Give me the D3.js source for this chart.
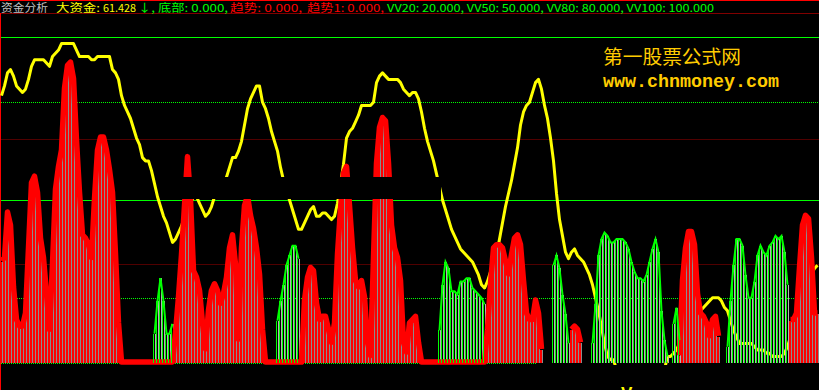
<!DOCTYPE html>
<html><head><meta charset="utf-8">
<script src="https://cdn.jsdelivr.net/npm/d3@7"></script>
<style>html,body{margin:0;padding:0;background:#000;overflow:hidden}</style>
</head><body>
<svg width="819" height="390"></svg>
<script>
// 大资金 (yellow line), one value per bar
let bigMoney = [
  82,85,89,90,88,85,84,83,84,87, 91,93,93,93,93,92,91,94,95,96,
  98,98,98,98,98,96,94,94,94,94, 93,93,94,94,94,94,94,90,89,87,
  82,79,77,75,72,69,67,63,62,62, 59,55,51,48,45,43,40,37,38,40,
  42,45,48,49,51,51,49,47,45,46, 48,51,52,54,55,57,60,63,63,65,
  68,73,78,81,83,85,85,80,78,75, 71,68,65,60,56,53,50,47,44,41,
  41,43,45,47,48,45,45,46,46,45, 44,45,49,55,61,69,71,72,74,76,
  79,79,79,79,80,86,88,89,88,87, 87,87,87,86,84,83,82,83,83,81,
  77,72,68,65,62,58,54,50,47,44, 41,39,37,35,34,33,32,31,29,27,
  24,23,25,28,31,33,38,43,48,52, 56,61,66,73,77,79,80,83,86,87,
  84,79,75,69,62,52,44,39,34,32, 34,35,33,32,31,29,27,24,20,16,
  11,6,2,1,1,-2,-2,-2,-2,-2, -2,-2,-2,-2,-2,-2,-2,-2,-2,-2,
  -2,-2,2,2,3,4,6,8,10,12, 13,14,15,16,17,18,19,20,20,20,
  19,17,16,13,10,8,6,6,6,6, 6,5,4,4,4,3,3,2,2,2,
  2,3,5,8,11,14,18,21,23,25, 27,29,30
];

// 趋势 (red sticks + thick red line), null = not drawn
let trend = [
  31,32,46,42,23,13,11,11,15,35, 55,57,52,38,32,21,10,30,53,60,
  65,84,91,92,87,68,52,39,38,36, 32,50,65,69,69,65,59,52,33,12,
  0,0,0,0,0,0,0,0,0,0, 0,0,0,0,0,0,0,0,
  9,20,33,48,63,50,28,26,22,12,4,16,
  22,24,22,18,21,26,35,39,30,7,
  35,48,51,45,41,35,27,10,
  0,0,0,0,0,0,0,0,0,0,0,0,0,
  19,26,29,28,18,13,14,14,10,6,12,
  33,47,58,60,48,35,25,23,25,20,6,2,
  32,61,72,75,74,61,42,35,32,25,6,3,12,13,14,6,
  0,0,0,0,0,0,0,0,0,0,0,0,0,0,0,0,0,0,0,0,0,0,
  10,24,35,36,36,35,31,27,33,38,39,36,25,15,13,13,19,15,4,
  null,null,null,null,null,null,null,null,null,
  10,11,10,6,
  null,null,null,null,null,null,null,null,null,null,null,null,null,null,null,null,
  null,null,null,null,null,null,null,null,null,null,null,null,null,null,null,null,
  2,25,35,40,40,36,21,15,14,12,8,13,14,8,
  null,null,null,null,null,null,null,null,null,null,null,null,
  null,null,null,null,null,null,null,null,null,null,null,
  13,13,15,29,42,45,44,32,15,15
];

// 趋势1 (green sticks)
let trend1 = [
  0,0,0,0,0,0,0,0,0,0, 0,0,0,0,0,0,0,0,0,0, 0,0,0,0,0,0,0,0,0,0,
  0,0,0,0,0,0,0,0,0,0, 0,0,0,0,0,0,0,0,0,0, 0,
  9,19,26,19,9,9,12,
  0,0,0,0,0,0,0,0,0,0, 0,0,0,0,0,0,0,0,0,0, 0,0,0,0,0,0,0,0,0,0, 0,0,0,0,
  13,19,24,30,33,36,36,32,
  0,0,0,0,0,0,0,0,0,0, 0,0,0,0,0,0,0,0,0,0, 0,0,0,0,0,0,0,0,0,0,
  0,0,0,0,0,0,0,0,0,0, 0,0,0,0,0,0,
  10,24,31,29,22,22,21,25,25,26,26,23,22,21,20,18,
  0,0,0,0,0,0,0,0,0,0, 0,0,0,0,0,0,0,0,0,0, 0,0,
  30,33,29,21,15,6,
  0,0,0,0,0,0,0,
  6,18,33,38,40,39,37,37,38,38,38,37,35,31,28,26,26,25,27,31,35,38,34,16,7,2,
  0,
  12,17,7,
  0,0,0,0,0,0,0,0,0,0, 0,0,0,0,0,
  5,19,30,38,38,36,27,20,20,25,33,36,34,33,36,37,39,38,39,34,24,
  0,0,0,0,0,0,0,0,0,0
];

let solidLevels = [100, 50];   // VV100, VV50
let dottedLevels = [80, 20];   // VV80, VV20
let bottomLevel = 0;           // 底部

let header = [
  {x: 1,   text: "资金分析", color: "#c0c0c0", len: 47},
  {x: 56,  text: "大资金:", color: "#ffff00", len: 44},
  {x: 103, text: "61.428", color: "#ffff00", len: 33},
  {x: 138, text: "↓, 底部: 0.000,", color: "#00ff00", len: 90},
  {x: 230, text: "趋势: 0.000,", color: "#ff0000", len: 72},
  {x: 307, text: "趋势1: 0.000,", color: "#ff0000", len: 77},
  {x: 387, text: "VV20: 20.000, VV50: 50.000, VV80: 80.000, VV100: 100.000", color: "#00ff00", len: 327}
];

const W = 819, H = 390;
const N = bigMoney.length;
const svg = d3.select("svg");

const x = d3.scaleLinear().domain([0, N]).range([0, W]);
const y = d3.scaleLinear().domain([0, 100]).range([363, 37]);
const px = v => Math.round(y(v)) + 0.5;

svg.append("rect").attr("width", W).attr("height", H).attr("fill", "#000");

// pane frame
svg.append("line").attr("x1", 0).attr("x2", W).attr("y1", 0.5).attr("y2", 0.5).attr("stroke", "#ff0000");
svg.append("line").attr("x1", 0).attr("x2", W).attr("y1", 13.5).attr("y2", 13.5).attr("stroke", "#800000");
svg.append("line").attr("x1", 0.5).attr("x2", 0.5).attr("y1", 13).attr("y2", H).attr("stroke", "#ff0000");
[1, 2].forEach(k => {
  let yy = Math.round(13 + (H - 13) * k / 3) + 0.5;
  svg.append("line").attr("x1", 1).attr("x2", W).attr("y1", yy).attr("y2", yy).attr("stroke", "#500000");
});

svg.selectAll(".solid").data(solidLevels).enter().append("line")
  .attr("x1", 1).attr("x2", W).attr("y1", px).attr("y2", px)
  .attr("stroke", "#00ff00");
svg.selectAll(".dotted").data(dottedLevels).enter().append("line")
  .attr("x1", 1).attr("x2", W).attr("y1", px).attr("y2", px)
  .attr("stroke", "#00ff00").attr("stroke-dasharray", "1,1");
svg.append("line")
  .attr("x1", 1).attr("x2", 537).attr("y1", px(bottomLevel)).attr("y2", px(bottomLevel))
  .attr("stroke", "#00ff00").attr("stroke-dasharray", "1,1");

svg.append("clipPath").attr("id", "pane")
  .append("rect").attr("x", 0).attr("y", 14).attr("width", W).attr("height", 351);

let plot = svg.append("g").attr("clip-path", "url(#pane)");

// yellow line
plot.append("path")
  .datum(bigMoney)
  .attr("fill", "none")
  .attr("stroke", "#ffff00")
  .attr("stroke-width", 3)
  .attr("stroke-linejoin", "round")
  .attr("d", d3.line().x((d, i) => x(i + 0.5)).y(d => y(d)));

// thin gray sticks beside each coloured bar
let bars = trend.map((v, i) => ({i, v: Math.max(v || 0, trend1[i]), red: (v || 0) > trend1[i]}));
plot.append("g").selectAll("rect")
  .data(bars.filter(d => d.v > 0))
  .enter().append("rect")
  .attr("x", d => Math.round(x(d.i)) + 2)
  .attr("width", 1)
  .attr("y", d => y(d.v))
  .attr("height", d => y(0) - y(d.v))
  .attr("fill", d => d.red ? "#8c8c8c" : "#b4b4b4")
  .attr("shape-rendering", "crispEdges");

// red sticks
plot.append("g").selectAll("rect")
  .data(trend.map((v, i) => ({v, i})).filter(d => d.v > 0))
  .enter().append("rect")
  .attr("x", d => Math.round(x(d.i)))
  .attr("width", 2)
  .attr("y", d => y(d.v))
  .attr("height", d => y(0) - y(d.v))
  .attr("fill", "#ff0000")
  .attr("shape-rendering", "crispEdges");

plot.append("path")
  .datum(trend)
  .attr("fill", "none")
  .attr("stroke", "#ff0000")
  .attr("stroke-width", 5.5)
  .attr("stroke-linejoin", "round")
  .attr("d", d3.line().defined(d => d != null).x((d, i) => x(i + 0.5)).y(d => y(d) - 1));

// green sticks
plot.append("g").selectAll("rect")
  .data(trend1.map((v, i) => ({v, i})).filter(d => d.v > 0))
  .enter().append("rect")
  .attr("x", d => Math.round(x(d.i)))
  .attr("width", 1)
  .attr("y", d => y(d.v))
  .attr("height", d => y(0) - y(d.v))
  .attr("fill", "#00ff00")
  .attr("shape-rendering", "crispEdges");

plot.append("path")
  .datum(trend1)
  .attr("fill", "none")
  .attr("stroke", "#00ff00")
  .attr("stroke-width", 2)
  .attr("d", d3.line().defined(d => d > 0).x((d, i) => x(i + 0.5)).y(d => y(d)));

// black band over the middle
svg.append("rect").attr("x", 180).attr("y", 177).attr("width", 261).attr("height", 22).attr("fill", "#000");

// header
let head = svg.append("g").attr("font-family", "'Noto Sans CJK SC', sans-serif").attr("font-size", 11);
head.selectAll("text").data(header).enter().append("text")
  .attr("x", d => d.x).attr("y", 12)
  .attr("fill", d => d.color)
  .attr("textLength", d => d.len)
  .attr("lengthAdjust", "spacingAndGlyphs")
  .text(d => d.text);

// watermark
svg.append("text").attr("x", 603).attr("y", 64)
  .attr("font-family", "'Noto Sans CJK SC', sans-serif").attr("font-size", 19)
  .attr("fill", "#ffcc00").attr("textLength", 138).attr("lengthAdjust", "spacingAndGlyphs")
  .text("第一股票公式网");
svg.append("text").attr("x", 603).attr("y", 87)
  .attr("font-family", "'Liberation Mono', monospace").attr("font-size", 18).attr("font-weight", "bold")
  .attr("fill", "#ffcc00").attr("textLength", 176).attr("lengthAdjust", "spacingAndGlyphs")
  .text("www.chnmoney.com");

svg.append("text").attr("x", 621).attr("y", 399)
  .attr("font-family", "'Liberation Sans', sans-serif").attr("font-size", 17).attr("font-weight", "bold")
  .attr("fill", "#ffff00").text("V");
</script>
</body></html>
